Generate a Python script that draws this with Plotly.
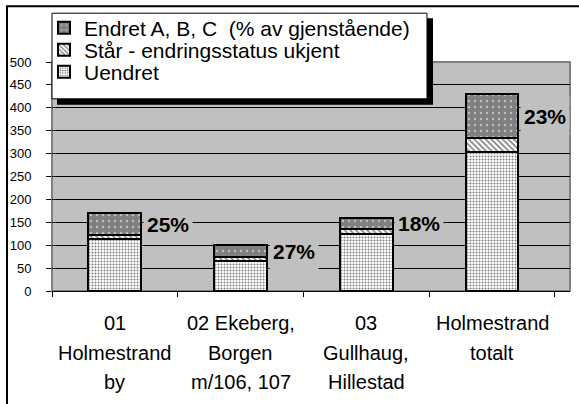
import plotly.graph_objects as go

# ---- data -------------------------------------------------------------
category_lines = [
    ["01", "Holmestrand", "by"],
    ["02 Ekeberg,", "Borgen", "m/106, 107"],
    ["03", "Gullhaug,", "Hillestad"],
    ["Holmestrand", "totalt"],
]
categories = [" ".join(lines) for lines in category_lines]

uendret = [113, 65, 125, 303]   # Uendret
staar = [10, 10, 10, 30]        # Står - endringsstatus ukjent
endret = [47, 25, 25, 97]       # Endret A, B, C
pct_endret = [25, 27, 18, 23]   # % av gjenstående

y_ticks = [0, 50, 100, 150, 200, 250, 300, 350, 400, 450, 500]

# ---- page geometry ----------------------------------------------------
W, H = 579, 404
L, R, T, B = 52, 9, 61, 113
PW, PH = W - L - R, H - T - B


def px(x):
    return (x - L) / PW


def py(y):
    return (H - B - y) / PH


FONT = "Liberation Sans, Arial, sans-serif"
PLOT_BG = "#c0c0c0"

fig = go.Figure()

fig.add_trace(go.Bar(
    name="Uendret", x=categories, y=uendret, legend="legend3",
    marker=dict(color="white",
                pattern=dict(shape=".", fgcolor="black", bgcolor="white",
                             size=3, solidity=0.35),
                line=dict(color="black", width=2)),
))
fig.add_trace(go.Bar(
    name="Står - endringsstatus ukjent", x=categories, y=staar, legend="legend2",
    marker=dict(color="white",
                pattern=dict(shape="\\", fgcolor="black", bgcolor="white",
                             size=4, solidity=0.4),
                line=dict(color="black", width=2)),
))
fig.add_trace(go.Bar(
    name="Endret A, B, C\u00a0 (% av gjenstående)", x=categories, y=endret,
    legend="legend",
    marker=dict(color="#808080",
                pattern=dict(shape=".", fgcolor="white", bgcolor="#808080",
                             size=6, solidity=0.12),
                line=dict(color="black", width=2)),
))

annotations = []
# percentage labels beside the "Endret" segment
for cat, u, s, e, p in zip(categories, uendret, staar, endret, pct_endret):
    annotations.append(dict(
        x=cat, y=u + s + e / 2, xref="x", yref="y",
        text=f"<b>{p}%</b>", showarrow=False,
        xanchor="left", yanchor="middle", xshift=28,
        font=dict(family=FONT, size=21, color="black"),
        bgcolor=PLOT_BG, borderpad=3, height=32,
    ))
# multi-line category labels under the axis
for cat, lines in zip(categories, category_lines):
    for i, line in enumerate(lines):
        annotations.append(dict(
            x=cat, y=0, xref="x", yref="paper",
            text=line, showarrow=False,
            xanchor="center", yanchor="middle", yshift=-(32 + 29.5 * i),
            font=dict(family=FONT, size=20, color="black"),
        ))

shapes = [
    # grey plot-area frame (above grid, below bars)
    dict(type="rect", xref="paper", yref="paper", x0=0, x1=1, y0=0, y1=1,
         line=dict(color="#808080", width=2), layer="between"),
    # legend drop shadow and box
    dict(type="rect", xref="paper", yref="paper",
         x0=px(57), x1=px(433), y0=py(104), y1=py(17),
         fillcolor="black", line=dict(width=0), layer="above"),
    dict(type="rect", xref="paper", yref="paper",
         x0=px(52), x1=px(427), y0=py(98), y1=py(12),
         fillcolor="white", line=dict(color="black", width=1), layer="above"),
    # outer chart frame (top and left edges)
    dict(type="path", xref="paper", yref="paper",
         path=f"M {px(7)},{py(410)} L {px(7)},{py(5)} L {px(590)},{py(5)}",
         line=dict(color="black", width=2), layer="above"),
]

legend_common = dict(
    xanchor="left", yanchor="middle", bgcolor="rgba(0,0,0,0)",
    borderwidth=0, itemwidth=30,
    font=dict(family=FONT, size=21, color="black"),
)

fig.update_layout(
    width=W, height=H,
    margin=dict(l=L, r=R, t=T, b=B, pad=0),
    paper_bgcolor="white", plot_bgcolor=PLOT_BG,
    barmode="stack", bargap=0.58,
    showlegend=True,
    legend=dict(x=px(44), y=py(28), **legend_common),
    legend2=dict(x=px(44), y=py(50), **legend_common),
    legend3=dict(x=px(44), y=py(72), **legend_common),
    xaxis=dict(type="category", tickson="boundaries", ticks="outside",
               ticklen=5, tickcolor="black", tickwidth=1,
               showticklabels=False, showgrid=False, zeroline=False,
               showline=True, linecolor="black", linewidth=1),
    yaxis=dict(range=[0, 500], tickvals=y_ticks, ticks="outside",
               ticklen=5, tickcolor="black", tickwidth=1,
               showgrid=True, gridcolor="black", gridwidth=1,
               zeroline=False, showline=False, ticklabelstandoff=12,
               tickfont=dict(family=FONT, size=13, color="black")),
    shapes=shapes,
    annotations=annotations,
)

fig.write_html("out.html")
